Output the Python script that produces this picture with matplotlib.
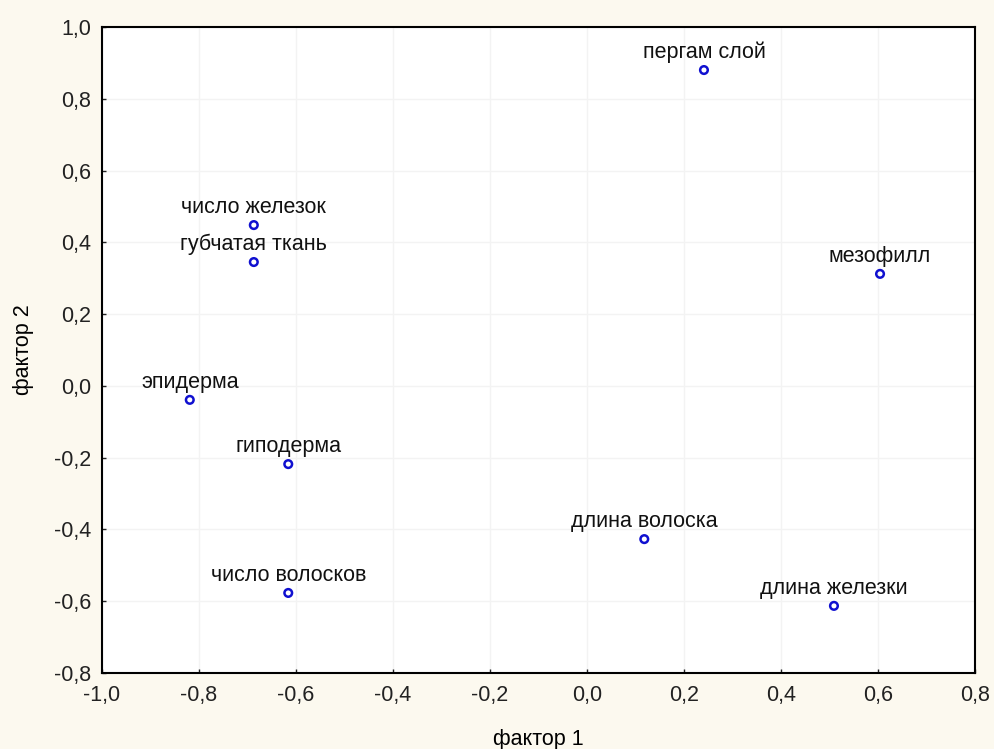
import matplotlib
matplotlib.use('Agg')
import matplotlib.pyplot as plt

# factor loadings
names = ['пергам слой', 'число железок', 'губчатая ткань', 'мезофилл', 'эпидерма',
         'гиподерма', 'длина волоска', 'число волосков', 'длина железки']
f1 = [0.241, -0.687, -0.687, 0.604, -0.819, -0.616, 0.118, -0.616, 0.509]
f2 = [0.880, 0.448, 0.345, 0.312, -0.039, -0.218, -0.427, -0.577, -0.613]

xticks = [-1.0, -0.8, -0.6, -0.4, -0.2, 0.0, 0.2, 0.4, 0.6, 0.8]
yticks = [-0.8, -0.6, -0.4, -0.2, 0.0, 0.2, 0.4, 0.6, 0.8, 1.0]

plt.rcParams['font.family'] = ['Liberation Sans', 'DejaVu Sans']
fs = 15.5

fig = plt.figure(figsize=(9.94, 7.49), dpi=100, facecolor='#fcf9ef')
ax = fig.add_axes([0.1026, 0.1015, 0.8784, 0.8625])
ax.set_facecolor('white')

ax.scatter(f1, f2, s=30, facecolors='none', edgecolors='#1010d0', linewidths=1.8, zorder=3)
for n, x, y in zip(names, f1, f2):
    ax.annotate(n, (x, y), xytext=(0, 5), textcoords='offset points',
                ha='center', va='bottom', fontsize=fs, color='#111111')

ax.set_xlim(-1.0, 0.8)
ax.set_ylim(-0.8, 1.0)
ax.set_xticks(xticks)
ax.set_yticks(yticks)
ax.set_xticklabels([('%.1f' % t).replace('.', ',') for t in xticks])
ax.set_yticklabels([('%.1f' % t).replace('.', ',') for t in yticks])
ax.tick_params(direction='in', length=3, width=1, labelsize=fs, colors='#222222')
ax.tick_params(axis='y', pad=8)
ax.tick_params(axis='x', pad=9)
ax.grid(True, color='#f3f3f3', linewidth=1)
for s in ax.spines.values():
    s.set_linewidth(1.5)
    s.set_color('black')

ax.set_xlabel('фактор 1', fontsize=fs, labelpad=16)
ax.set_ylabel('фактор 2', fontsize=fs, labelpad=14)

fig.savefig('out.png', dpi=100, facecolor=fig.get_facecolor())
